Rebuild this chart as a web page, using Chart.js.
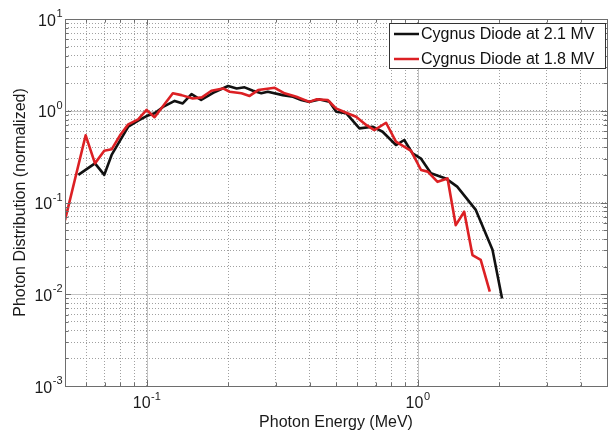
<!DOCTYPE html>
<html><head><meta charset="utf-8">
<script src="https://cdn.jsdelivr.net/npm/chart.js@4/dist/chart.umd.min.js"></script>
<style>html,body{margin:0;padding:0;background:#fff;}#wrap{width:611px;height:433px;}</style>
</head><body><div id="wrap"><canvas id="c" width="611" height="433"></canvas></div>
<script>
const seriesNames = ['Cygnus Diode at 2.1 MV', 'Cygnus Diode at 1.8 MV'];
const seriesColors = ['#111111', 'rgb(220,32,36)'];

const energy21 = [0.056, 0.0645, 0.0698, 0.0743, 0.0856, 0.0931, 0.100, 0.107, 0.115, 0.127, 0.136, 0.1465, 0.159, 0.176, 0.200, 0.215, 0.230, 0.247, 0.265, 0.280, 0.318, 0.347, 0.372, 0.399, 0.435, 0.473, 0.501, 0.545, 0.610, 0.682, 0.743, 0.832, 0.893, 0.958, 1.03, 1.12, 1.27, 1.40, 1.64, 1.89, 2.05];
const dist21   = [0.20, 0.267, 0.20, 0.33, 0.67, 0.78, 0.875, 0.94, 1.10, 1.28, 1.20, 1.52, 1.31, 1.57, 1.86, 1.75, 1.80, 1.65, 1.55, 1.61, 1.48, 1.42, 1.31, 1.25, 1.33, 1.25, 0.975, 0.94, 0.643, 0.67, 0.59, 0.423, 0.48, 0.343, 0.30, 0.208, 0.183, 0.149, 0.083, 0.0305, 0.009];

const energy18 = [0.050, 0.0596, 0.0645, 0.0698, 0.0743, 0.0798, 0.0856, 0.0931, 0.100, 0.107, 0.125, 0.1345, 0.148, 0.160, 0.1735, 0.1915, 0.2026, 0.224, 0.240, 0.258, 0.297, 0.323, 0.357, 0.399, 0.4225, 0.466, 0.500, 0.545, 0.593, 0.646, 0.6925, 0.765, 0.832, 0.946, 1.03, 1.09, 1.185, 1.29, 1.383, 1.486, 1.594, 1.71, 1.847];
const dist18   = [0.064, 0.54, 0.267, 0.367, 0.38, 0.54, 0.71, 0.805, 1.02, 0.85, 1.55, 1.48, 1.36, 1.40, 1.65, 1.75, 1.61, 1.55, 1.45, 1.68, 1.78, 1.55, 1.42, 1.25, 1.33, 1.31, 1.06, 0.95, 0.86, 0.70, 0.616, 0.74, 0.46, 0.365, 0.226, 0.217, 0.168, 0.183, 0.0566, 0.0793, 0.0267, 0.0237, 0.0107];

const xMajorTicks = [0.1, 1];
const xTickExponents = ['-1', '0'];
const yMajorTicks = [0.001, 0.01, 0.1, 1, 10];
const yTickExponents = ['-3', '-2', '-1', '0', '1'];
const tickBase = '10';
const xRange = [0.05, 5];
const yRange = [0.001, 10];

const FONT = '"Liberation Sans", Arial, sans-serif';

function logTicks(min, max) {
  const out = [];
  for (let e = -4; e <= 2; e++) {
    for (let m = 1; m <= 9; m++) {
      const v = parseFloat((m * Math.pow(10, e)).toPrecision(6));
      if (v >= min * 0.9999 && v <= max * 1.0001) out.push(v);
    }
  }
  return out;
}
function labelFor(v, majors, exps) {
  for (let i = 0; i < majors.length; i++) {
    if (Math.abs(v - majors[i]) / majors[i] < 1e-6) return tickBase + '^' + exps[i];
  }
  return '';
}
function isMajor(v) { return Math.abs(Math.log10(v) - Math.round(Math.log10(v))) < 1e-6; }

const toPts = (xs, ys) => xs.map((x, i) => ({x: x, y: ys[i]}));

function drawPow(ctx, exp, x, baseline, align) {
  ctx.font = '16px ' + FONT;
  const w1 = ctx.measureText(tickBase).width;
  ctx.font = '11px ' + FONT;
  const w2 = ctx.measureText(exp).width;
  const left = align === 'center' ? x - (w1 + w2) / 2 : x - (w1 + w2);
  ctx.textAlign = 'left';
  ctx.textBaseline = 'alphabetic';
  ctx.fillStyle = '#1a1a1a';
  ctx.font = '16px ' + FONT;
  ctx.fillText(tickBase, left, baseline);
  ctx.font = '11px ' + FONT;
  ctx.fillText(exp, left + w1 + 0.5, baseline - 8.5);
}

const framePlugin = {
  id: 'frame',
  beforeDatasetsDraw(chart) {
    const {ctx, chartArea: a, scales: {x, y}} = chart;
    ctx.save();
    ctx.strokeStyle = '#c4c4c4';
    ctx.lineWidth = 1;
    ctx.beginPath();
    xMajorTicks.forEach(v => { const p = Math.round(x.getPixelForValue(v)) + 0.5; ctx.moveTo(p, a.top); ctx.lineTo(p, a.bottom); });
    yMajorTicks.forEach(v => { const p = Math.round(y.getPixelForValue(v)) + 0.5; ctx.moveTo(a.left, p); ctx.lineTo(a.right, p); });
    ctx.stroke();
    ctx.restore();
  },
  afterDraw(chart) {
    const {ctx, chartArea: a, scales: {x, y}} = chart;
    ctx.save();
    ctx.strokeStyle = '#6e6e6e';
    ctx.lineWidth = 1;
    ctx.beginPath();
    x.ticks.forEach(t => {
      const p = Math.round(x.getPixelForValue(t.value)) + 0.5;
      const L = isMajor(t.value) ? 6 : 3.5;
      ctx.moveTo(p, a.bottom); ctx.lineTo(p, a.bottom - L);
      ctx.moveTo(p, a.top); ctx.lineTo(p, a.top + L);
    });
    y.ticks.forEach(t => {
      const p = Math.round(y.getPixelForValue(t.value)) + 0.5;
      const L = isMajor(t.value) ? 6 : 3.5;
      ctx.moveTo(a.left, p); ctx.lineTo(a.left + L, p);
      ctx.moveTo(a.right, p); ctx.lineTo(a.right - L, p);
    });
    ctx.stroke();
    ctx.strokeRect(Math.round(a.left) + 0.5, Math.round(a.top) + 0.5, Math.round(a.right - a.left), Math.round(a.bottom - a.top));
    // tick labels with superscript exponents
    xMajorTicks.forEach((v, i) => drawPow(ctx, xTickExponents[i], x.getPixelForValue(v), a.bottom + 22, 'center'));
    yMajorTicks.forEach((v, i) => drawPow(ctx, yTickExponents[i], a.left - 3, y.getPixelForValue(v) + 6.5, 'right'));
    // legend
    const bx = 389.5, by = 23.5, bw = 216, bh = 45;
    ctx.fillStyle = '#ffffff';
    ctx.fillRect(bx, by, bw, bh);
    ctx.strokeStyle = '#333333';
    ctx.lineWidth = 1;
    ctx.strokeRect(bx, by, bw, bh);
    [0, 1].forEach((di, k) => {
      const ds = chart.data.datasets[di];
      const cy = 34 + k * 25;
      ctx.strokeStyle = ds.borderColor;
      ctx.lineWidth = 2.5;
      ctx.beginPath(); ctx.moveTo(394, cy); ctx.lineTo(419, cy); ctx.stroke();
      ctx.fillStyle = '#111';
      ctx.font = '16px ' + FONT;
      ctx.textBaseline = 'middle';
      ctx.textAlign = 'left';
      ctx.fillText(ds.label, 421, cy + 1);
    });
    ctx.restore();
  }
};

new Chart(document.getElementById('c'), {
  type: 'line',
  data: {
    datasets: [
      {label: seriesNames[0], data: toPts(energy21, dist21), borderColor: seriesColors[0], borderWidth: 2.6, pointRadius: 0, tension: 0, fill: false, order: 1},
      {label: seriesNames[1], data: toPts(energy18, dist18), borderColor: seriesColors[1], borderWidth: 2.6, pointRadius: 0, tension: 0, fill: false, order: 0}
    ]
  },
  options: {
    responsive: false,
    animation: false,
    devicePixelRatio: 1,
    layout: {padding: {top: 19, right: 4, left: 0, bottom: 0}},
    plugins: {legend: {display: false}, tooltip: {enabled: false}},
    elements: {line: {borderJoinStyle: 'round', borderCapStyle: 'butt'}},
    scales: {
      x: {
        type: 'logarithmic', min: xRange[0], max: xRange[1],
        afterBuildTicks: s => { s.ticks = logTicks(xRange[0], xRange[1]).map(v => ({value: v})); },
        afterFit: s => { s.height = 47; },
        ticks: {display: false, autoSkip: false, callback: v => labelFor(v, xMajorTicks, xTickExponents)},
        grid: {color: '#a0a0a0', lineWidth: 1, drawTicks: false},
        border: {display: false, dash: [1, 2]},
        title: {display: true, text: 'Photon Energy (MeV)', color: '#1a1a1a', font: {family: FONT, size: 16}, padding: {top: 0, bottom: 1}}
      },
      y: {
        type: 'logarithmic', min: yRange[0], max: yRange[1],
        afterBuildTicks: s => { s.ticks = logTicks(yRange[0], yRange[1]).map(v => ({value: v})); },
        afterFit: s => { s.width = 65; },
        ticks: {display: false, autoSkip: false, callback: v => labelFor(v, yMajorTicks, yTickExponents)},
        grid: {color: '#a0a0a0', lineWidth: 1, drawTicks: false},
        border: {display: false, dash: [1, 2]},
        title: {display: true, text: 'Photon Distribution (normalized)', color: '#1a1a1a', font: {family: FONT, size: 16}, padding: {top: 11, bottom: 0}}
      }
    }
  },
  plugins: [framePlugin]
});
</script></body></html>
